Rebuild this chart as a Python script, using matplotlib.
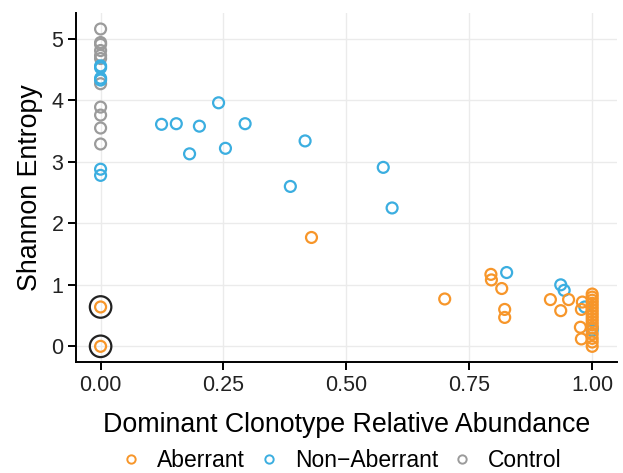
import matplotlib
matplotlib.use("Agg")
import matplotlib.pyplot as plt
from matplotlib.lines import Line2D

plt.rcParams['font.family'] = ['Liberation Sans', 'DejaVu Sans']

# Control samples (x = 0)
control_x = [0.0] * 11
control_y = [5.16, 4.94, 4.91, 4.81, 4.73, 4.68, 4.27, 3.89, 3.76, 3.55, 3.29]

# Non-aberrant samples
nonab_x = [0.0, 0.0, 0.0, 0.0, 0.0, 0.0, 0.124, 0.154, 0.201, 0.240, 0.181, 0.254, 0.294,
           0.416, 0.386, 0.575, 0.593, 0.826, 0.936, 0.943, 0.985, 1.0, 1.0]
nonab_y = [4.56, 4.53, 4.36, 4.33, 2.88, 2.78, 3.61, 3.62, 3.58, 3.96, 3.13, 3.22, 3.62,
           3.34, 2.60, 2.91, 2.25, 1.20, 1.00, 0.91, 0.64, 0.30, 0.26]

# Aberrant samples
ab_x = [0.0, 0.0, 0.429, 0.700, 0.794, 0.795, 0.816, 0.822, 0.822, 0.915, 0.952, 0.936,
        0.980, 0.978, 0.976, 0.978,
        1.0, 1.0, 1.0, 1.0, 1.0, 1.0, 1.0, 1.0, 1.0, 1.0, 1.0, 1.0, 1.0, 1.0, 1.0, 1.0]
ab_y = [0.64, 0.0, 1.77, 0.77, 1.17, 1.08, 0.94, 0.60, 0.47, 0.76, 0.76, 0.58,
        0.72, 0.60, 0.31, 0.12,
        0.85, 0.80, 0.75, 0.70, 0.65, 0.60, 0.55, 0.50, 0.45, 0.40, 0.35, 0.30, 0.20, 0.13, 0.07, 0.0]

# Highlighted (circled) points
hl_x = [0.0, 0.0]
hl_y = [0.64, 0.0]

xticks = [0.0, 0.25, 0.5, 0.75, 1.0]
xticklabels = ["0.00", "0.25", "0.50", "0.75", "1.00"]
yticks = [0, 1, 2, 3, 4, 5]

c_ab = "#F7962A"
c_nab = "#3BAEE0"
c_ctl = "#9B9B9B"

fig = plt.figure(figsize=(6.23, 4.73), dpi=100)
ax = fig.add_axes([0.122, 0.234, 0.868, 0.7385])

ms = 62
lw = 1.6
ax.scatter(control_x, control_y, s=ms, facecolors='none', edgecolors=c_ctl, linewidths=lw, zorder=3)
ax.scatter(nonab_x, nonab_y, s=ms, facecolors='none', edgecolors=c_nab, linewidths=lw, zorder=3)
ax.scatter(ab_x, ab_y, s=ms, facecolors='none', edgecolors=c_ab, linewidths=lw, zorder=3)
ax.scatter(hl_x, hl_y, s=240, facecolors='none', edgecolors='#222222', linewidths=1.6, zorder=4)

ax.set_xlim(-0.05, 1.05)
ax.set_ylim(-0.26, 5.42)
ax.set_xticks(xticks)
ax.set_xticklabels(xticklabels)
ax.set_yticks(yticks)
ax.grid(True, color='#EBEBEB', linewidth=1.0, zorder=0)
ax.set_axisbelow(True)
for s in ['top', 'right']:
    ax.spines[s].set_visible(False)
for s in ['left', 'bottom']:
    ax.spines[s].set_color('black')
    ax.spines[s].set_linewidth(1.4)
ax.tick_params(axis='both', colors='black', labelsize=15.5, length=6, width=1.4,
               direction='out', pad=3)
for lab in ax.get_xticklabels() + ax.get_yticklabels():
    lab.set_color('#222222')

ax.set_xlabel("Dominant Clonotype Relative Abundance", fontsize=19.3, labelpad=12)
ax.set_ylabel("Shannon Entropy", fontsize=19.3, labelpad=6)

handles = [Line2D([], [], marker='o', linestyle='none', markerfacecolor='none',
                  markeredgecolor=c, markersize=6, markeredgewidth=1.4) for c in (c_ab, c_nab, c_ctl)]
fig.legend(handles, ["Aberrant", "Non\u2212Aberrant", "Control"], loc='center',
           bbox_to_anchor=(0.541, 0.027), ncol=3, frameon=False, fontsize=16.5,
           handlelength=1.6, handletextpad=0.33, columnspacing=0.25,
           borderpad=0.0, borderaxespad=0.0)

fig.savefig("out.png", dpi=100)
